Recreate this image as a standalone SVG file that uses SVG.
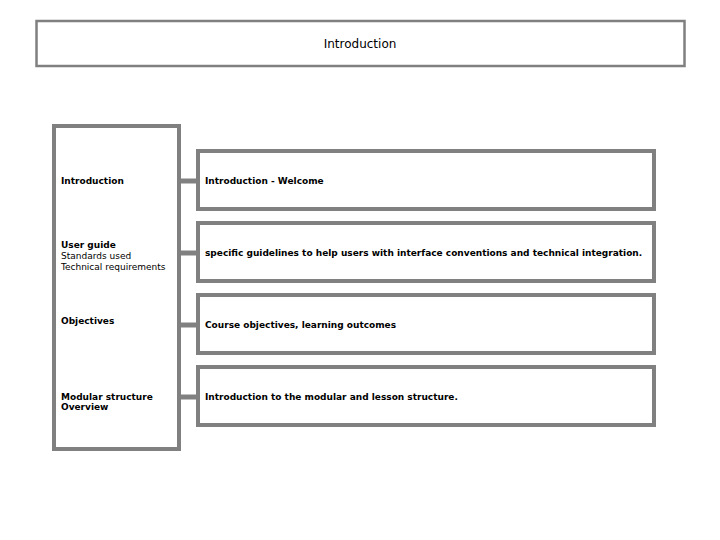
<svg xmlns="http://www.w3.org/2000/svg" width="720" height="540" viewBox="0 0 720 540">
<style>
.b{fill:#fff;stroke:#808080;stroke-width:4}
.t{font-family:"DejaVu Sans",sans-serif;font-size:9px;fill:#000}
.bd{font-weight:bold}
.c{stroke:#808080;stroke-width:5}
</style>
<rect width="720" height="540" fill="#fff"/>
<g id="title"><rect x="36.5" y="21" width="648" height="45" fill="#fff" stroke="#808080" stroke-width="2.5"/>
<text x="360" y="48" text-anchor="middle" class="t" style="font-size:12px">Introduction</text></g>
<g id="connectors">
<line class="c" x1="180" y1="181" x2="197" y2="181"/>
<line class="c" x1="180" y1="253" x2="197" y2="253"/>
<line class="c" x1="180" y1="325" x2="197" y2="325"/>
<line class="c" x1="180" y1="397" x2="197" y2="397"/>
</g>
<g id="left"><rect class="b" x="54" y="126" width="125" height="323"/>
<text class="t bd" x="61" y="184">Introduction</text>
<text class="t bd" x="61" y="248">User guide</text>
<text class="t" x="61" y="259">Standards used</text>
<text class="t" x="61" y="270">Technical requirements</text>
<text class="t bd" x="61" y="324">Objectives</text>
<text class="t bd" x="61" y="400">Modular structure</text>
<text class="t bd" x="61" y="410">Overview</text></g>
<g id="n1"><rect class="b" x="198" y="151" width="456" height="58"/><text class="t bd" x="205" y="184">Introduction - Welcome</text></g>
<g id="n2"><rect class="b" x="198" y="223" width="456" height="58"/><text class="t bd" x="205" y="256">specific guidelines to help users with interface conventions and technical integration.</text></g>
<g id="n3"><rect class="b" x="198" y="295" width="456" height="58"/><text class="t bd" x="205" y="328">Course objectives, learning outcomes</text></g>
<g id="n4"><rect class="b" x="198" y="367" width="456" height="58"/><text class="t bd" x="205" y="400">Introduction to the modular and lesson structure.</text></g>
</svg>
